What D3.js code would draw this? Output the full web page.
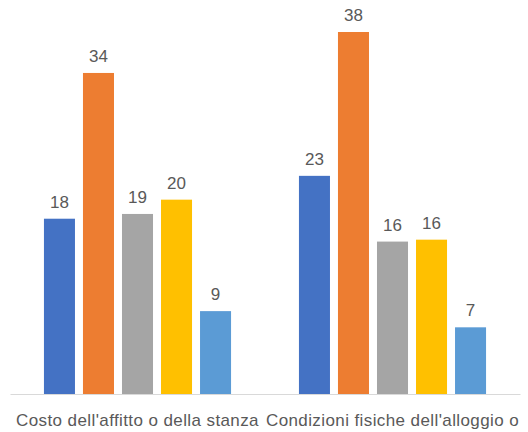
<!DOCTYPE html>
<html>
<head>
<meta charset="utf-8">
<script src="https://cdn.jsdelivr.net/npm/d3@7"></script>
<style>
  body { margin: 0; background: #fff; }
  svg { display: block; font-family: "Liberation Sans", Arial, sans-serif; }
</style>
</head>
<body>
<svg id="chart"></svg>
<script>
// categories and series (labels are rounded)
let categories = ["Costo dell'affitto o della stanza", "Condizioni fisiche dell'alloggio o"];
let seriesNames = ['s1', 's2', 's3', 's4', 's5'];
let serie1 = [18.4, 22.9];
let serie2 = [33.7, 38.0];
let serie3 = [18.9, 16.0];
let serie4 = [20.4, 16.2];
let serie5 = [8.7, 7.0];
let colors = ['#4472C4', '#ED7D31', '#A5A5A5', '#FFC000', '#5B9BD5'];

let width = 528;
let height = 432;
let margin = { top: 32, bot: 38, left: 10, right: 8 };

let svg = d3.select('#chart')
  .attr('width', width)
  .attr('height', height);

let allSeries = [serie1, serie2, serie3, serie4, serie5];
let data = categories.map((c, i) => ({
  cat: c,
  values: allSeries.map((s, j) => ({ name: seriesNames[j], value: s[i] }))
}));

let xScale = d3.scaleBand()
  .domain(categories)
  .range([margin.left, width - margin.right]);

let xInner = d3.scaleBand()
  .domain(seriesNames)
  .range([0, xScale.bandwidth()])
  .paddingInner(0.205)
  .paddingOuter(0.87);

let yScale = d3.scaleLinear()
  .domain([0, 38])
  .range([height - margin.bot, margin.top]);

let colorScale = d3.scaleOrdinal()
  .domain(seriesNames)
  .range(colors);

// baseline axis
let xAx = d3.axisBottom(xScale).tickSize(0).tickPadding(20);
let xAxGroup = svg.append('g')
  .attr('transform', `translate(0,${yScale(0)})`)
  .call(xAx);
xAxGroup.select('.domain').attr('stroke', '#D9D9D9').attr('stroke-width', 1);
xAxGroup.selectAll('text')
  .attr('fill', '#595959')
  .style('font-size', '17px')
  .style('letter-spacing', '0.4px')
  .style('font-family', '"Liberation Sans", Arial, sans-serif');

let groups = svg.selectAll('.group')
  .data(data)
  .enter()
  .append('g')
  .attr('class', 'group')
  .attr('transform', d => `translate(${xScale(d.cat)},0)`);

groups.selectAll('rect')
  .data(d => d.values)
  .enter()
  .append('rect')
  .attr('x', d => xInner(d.name))
  .attr('y', d => yScale(d.value))
  .attr('width', xInner.bandwidth())
  .attr('height', d => yScale(0) - yScale(d.value))
  .attr('fill', d => colorScale(d.name));

groups.selectAll('.label')
  .data(d => d.values)
  .enter()
  .append('text')
  .attr('class', 'label')
  .attr('x', d => xInner(d.name) + xInner.bandwidth() / 2)
  .attr('y', d => yScale(d.value) - 11)
  .attr('text-anchor', 'middle')
  .attr('fill', '#595959')
  .style('font-size', '17px')
  .text(d => d3.format('.0f')(d.value));
</script>
</body>
</html>
